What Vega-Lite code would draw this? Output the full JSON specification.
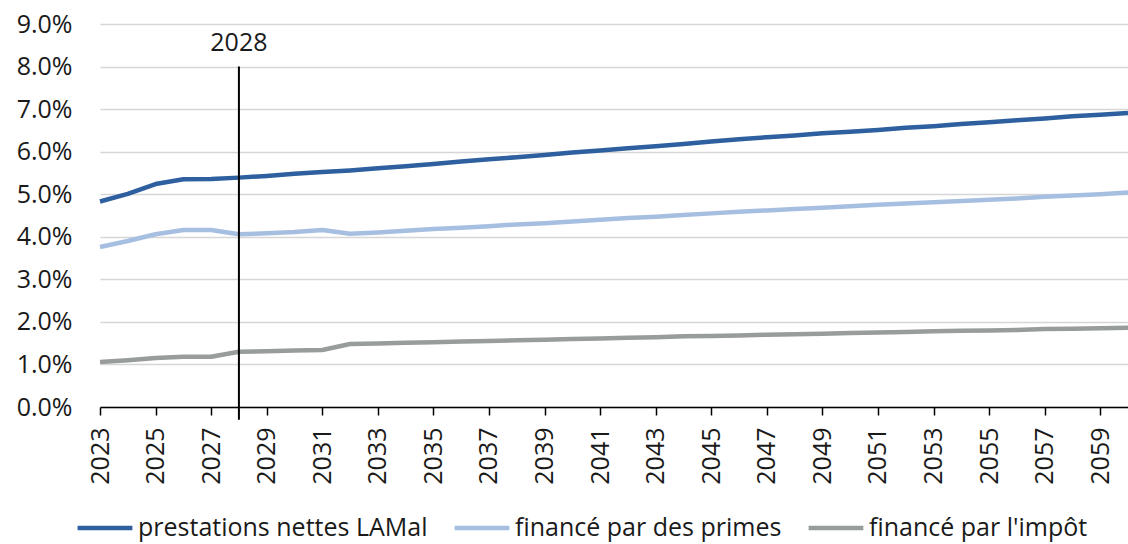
{
  "$schema": "https://vega.github.io/schema/vega-lite/v6.json",
  "width": 1028,
  "height": 383,
  "autosize": {"type": "none"},
  "padding": {"left": 100, "top": 24, "right": 0, "bottom": 137},
  "background": "white",
  "config": {
    "view": {"stroke": null},
    "font": "Open Sans",
    "axis": {"labelFont": "Open Sans", "labelColor": "#1a1a1a", "labelFontSize": 25, "titleFontSize": 0},
    "legend": {"labelFont": "Open Sans", "labelFontSize": 25, "labelColor": "#1a1a1a", "labelLimit": 0}
  },
  "datasets": {
    "series": [
      {"year": 2023, "serie": "prestations nettes LAMal", "value": 4.83},
      {"year": 2024, "serie": "prestations nettes LAMal", "value": 5.01},
      {"year": 2025, "serie": "prestations nettes LAMal", "value": 5.24},
      {"year": 2026, "serie": "prestations nettes LAMal", "value": 5.35},
      {"year": 2027, "serie": "prestations nettes LAMal", "value": 5.36},
      {"year": 2028, "serie": "prestations nettes LAMal", "value": 5.39},
      {"year": 2029, "serie": "prestations nettes LAMal", "value": 5.43},
      {"year": 2030, "serie": "prestations nettes LAMal", "value": 5.48},
      {"year": 2031, "serie": "prestations nettes LAMal", "value": 5.52},
      {"year": 2032, "serie": "prestations nettes LAMal", "value": 5.56},
      {"year": 2033, "serie": "prestations nettes LAMal", "value": 5.61},
      {"year": 2034, "serie": "prestations nettes LAMal", "value": 5.66},
      {"year": 2035, "serie": "prestations nettes LAMal", "value": 5.71},
      {"year": 2036, "serie": "prestations nettes LAMal", "value": 5.77},
      {"year": 2037, "serie": "prestations nettes LAMal", "value": 5.82},
      {"year": 2038, "serie": "prestations nettes LAMal", "value": 5.87},
      {"year": 2039, "serie": "prestations nettes LAMal", "value": 5.92},
      {"year": 2040, "serie": "prestations nettes LAMal", "value": 5.98},
      {"year": 2041, "serie": "prestations nettes LAMal", "value": 6.03},
      {"year": 2042, "serie": "prestations nettes LAMal", "value": 6.08},
      {"year": 2043, "serie": "prestations nettes LAMal", "value": 6.13},
      {"year": 2044, "serie": "prestations nettes LAMal", "value": 6.18},
      {"year": 2045, "serie": "prestations nettes LAMal", "value": 6.24},
      {"year": 2046, "serie": "prestations nettes LAMal", "value": 6.29},
      {"year": 2047, "serie": "prestations nettes LAMal", "value": 6.34},
      {"year": 2048, "serie": "prestations nettes LAMal", "value": 6.38},
      {"year": 2049, "serie": "prestations nettes LAMal", "value": 6.43},
      {"year": 2050, "serie": "prestations nettes LAMal", "value": 6.47},
      {"year": 2051, "serie": "prestations nettes LAMal", "value": 6.51},
      {"year": 2052, "serie": "prestations nettes LAMal", "value": 6.56},
      {"year": 2053, "serie": "prestations nettes LAMal", "value": 6.60},
      {"year": 2054, "serie": "prestations nettes LAMal", "value": 6.65},
      {"year": 2055, "serie": "prestations nettes LAMal", "value": 6.69},
      {"year": 2056, "serie": "prestations nettes LAMal", "value": 6.74},
      {"year": 2057, "serie": "prestations nettes LAMal", "value": 6.78},
      {"year": 2058, "serie": "prestations nettes LAMal", "value": 6.83},
      {"year": 2059, "serie": "prestations nettes LAMal", "value": 6.87},
      {"year": 2060, "serie": "prestations nettes LAMal", "value": 6.91},
      {"year": 2023, "serie": "financé par des primes", "value": 3.76},
      {"year": 2024, "serie": "financé par des primes", "value": 3.90},
      {"year": 2025, "serie": "financé par des primes", "value": 4.06},
      {"year": 2026, "serie": "financé par des primes", "value": 4.16},
      {"year": 2027, "serie": "financé par des primes", "value": 4.16},
      {"year": 2028, "serie": "financé par des primes", "value": 4.06},
      {"year": 2029, "serie": "financé par des primes", "value": 4.08},
      {"year": 2030, "serie": "financé par des primes", "value": 4.11},
      {"year": 2031, "serie": "financé par des primes", "value": 4.16},
      {"year": 2032, "serie": "financé par des primes", "value": 4.07},
      {"year": 2033, "serie": "financé par des primes", "value": 4.10},
      {"year": 2034, "serie": "financé par des primes", "value": 4.14},
      {"year": 2035, "serie": "financé par des primes", "value": 4.18},
      {"year": 2036, "serie": "financé par des primes", "value": 4.21},
      {"year": 2037, "serie": "financé par des primes", "value": 4.25},
      {"year": 2038, "serie": "financé par des primes", "value": 4.29},
      {"year": 2039, "serie": "financé par des primes", "value": 4.32},
      {"year": 2040, "serie": "financé par des primes", "value": 4.36},
      {"year": 2041, "serie": "financé par des primes", "value": 4.40},
      {"year": 2042, "serie": "financé par des primes", "value": 4.44},
      {"year": 2043, "serie": "financé par des primes", "value": 4.47},
      {"year": 2044, "serie": "financé par des primes", "value": 4.51},
      {"year": 2045, "serie": "financé par des primes", "value": 4.55},
      {"year": 2046, "serie": "financé par des primes", "value": 4.59},
      {"year": 2047, "serie": "financé par des primes", "value": 4.62},
      {"year": 2048, "serie": "financé par des primes", "value": 4.65},
      {"year": 2049, "serie": "financé par des primes", "value": 4.68},
      {"year": 2050, "serie": "financé par des primes", "value": 4.72},
      {"year": 2051, "serie": "financé par des primes", "value": 4.75},
      {"year": 2052, "serie": "financé par des primes", "value": 4.78},
      {"year": 2053, "serie": "financé par des primes", "value": 4.81},
      {"year": 2054, "serie": "financé par des primes", "value": 4.84},
      {"year": 2055, "serie": "financé par des primes", "value": 4.87},
      {"year": 2056, "serie": "financé par des primes", "value": 4.90},
      {"year": 2057, "serie": "financé par des primes", "value": 4.94},
      {"year": 2058, "serie": "financé par des primes", "value": 4.97},
      {"year": 2059, "serie": "financé par des primes", "value": 5.00},
      {"year": 2060, "serie": "financé par des primes", "value": 5.04},
      {"year": 2023, "serie": "financé par l'impôt", "value": 1.06},
      {"year": 2024, "serie": "financé par l'impôt", "value": 1.10},
      {"year": 2025, "serie": "financé par l'impôt", "value": 1.15},
      {"year": 2026, "serie": "financé par l'impôt", "value": 1.18},
      {"year": 2027, "serie": "financé par l'impôt", "value": 1.18},
      {"year": 2028, "serie": "financé par l'impôt", "value": 1.30},
      {"year": 2029, "serie": "financé par l'impôt", "value": 1.31},
      {"year": 2030, "serie": "financé par l'impôt", "value": 1.33},
      {"year": 2031, "serie": "financé par l'impôt", "value": 1.34},
      {"year": 2032, "serie": "financé par l'impôt", "value": 1.48},
      {"year": 2033, "serie": "financé par l'impôt", "value": 1.49},
      {"year": 2034, "serie": "financé par l'impôt", "value": 1.51},
      {"year": 2035, "serie": "financé par l'impôt", "value": 1.52},
      {"year": 2036, "serie": "financé par l'impôt", "value": 1.54},
      {"year": 2037, "serie": "financé par l'impôt", "value": 1.55},
      {"year": 2038, "serie": "financé par l'impôt", "value": 1.57},
      {"year": 2039, "serie": "financé par l'impôt", "value": 1.58},
      {"year": 2040, "serie": "financé par l'impôt", "value": 1.60},
      {"year": 2041, "serie": "financé par l'impôt", "value": 1.61},
      {"year": 2042, "serie": "financé par l'impôt", "value": 1.63},
      {"year": 2043, "serie": "financé par l'impôt", "value": 1.64},
      {"year": 2044, "serie": "financé par l'impôt", "value": 1.66},
      {"year": 2045, "serie": "financé par l'impôt", "value": 1.67},
      {"year": 2046, "serie": "financé par l'impôt", "value": 1.68},
      {"year": 2047, "serie": "financé par l'impôt", "value": 1.70},
      {"year": 2048, "serie": "financé par l'impôt", "value": 1.71},
      {"year": 2049, "serie": "financé par l'impôt", "value": 1.72},
      {"year": 2050, "serie": "financé par l'impôt", "value": 1.74},
      {"year": 2051, "serie": "financé par l'impôt", "value": 1.75},
      {"year": 2052, "serie": "financé par l'impôt", "value": 1.76},
      {"year": 2053, "serie": "financé par l'impôt", "value": 1.78},
      {"year": 2054, "serie": "financé par l'impôt", "value": 1.79},
      {"year": 2055, "serie": "financé par l'impôt", "value": 1.80},
      {"year": 2056, "serie": "financé par l'impôt", "value": 1.81},
      {"year": 2057, "serie": "financé par l'impôt", "value": 1.83},
      {"year": 2058, "serie": "financé par l'impôt", "value": 1.84},
      {"year": 2059, "serie": "financé par l'impôt", "value": 1.85},
      {"year": 2060, "serie": "financé par l'impôt", "value": 1.86}
    ],
    "marker": [
      {"year": 2028, "label": "2028", "top": 8, "bottom": -0.3, "labelpos": 8.55}
    ]
  },
  "layer": [
    {
      "data": {"name": "series"},
      "mark": {"type": "line", "strokeWidth": 4.5, "strokeCap": "butt", "strokeJoin": "round"},
      "encoding": {
        "x": {
          "field": "year", "type": "quantitative",
          "scale": {"domain": [2023, 2060], "nice": false, "zero": false},
          "axis": {
            "title": null,
            "values": [2023,2024,2025,2026,2027,2028,2029,2030,2031,2032,2033,2034,2035,2036,2037,2038,2039,2040,2041,2042,2043,2044,2045,2046,2047,2048,2049,2050,2051,2052,2053,2054,2055,2056,2057,2058,2059,2060],
            "labelExpr": "datum.value % 2 == 1 ? '' + datum.value : ''",
            "labelAngle": -90, "labelAlign": "right", "labelBaseline": "middle",
            "labelPadding": 12, "labelOverlap": false, "labelFlush": false, "labelBound": false,
            "grid": false, "domainColor": "#000000", "domainWidth": 1.5,
            "tickColor": "#000000", "tickWidth": 1.5, "tickSize": 8
          }
        },
        "y": {
          "field": "value", "type": "quantitative",
          "scale": {"domain": [0, 9], "nice": false},
          "axis": {
            "title": null,
            "values": [0,1,2,3,4,5,6,7,8,9],
            "labelExpr": "format(datum.value, '.1f') + '%'",
            "domain": false, "ticks": false, "labelPadding": 28,
            "grid": true, "gridColor": "#d6d6d6", "gridWidth": 1.5
          }
        },
        "color": {
          "field": "serie", "type": "nominal",
          "scale": {
            "domain": ["prestations nettes LAMal", "financé par des primes", "financé par l'impôt"],
            "range": ["#2e5f9f", "#a6bfe1", "#999c9c"]
          },
          "legend": {
            "title": null, "orient": "none", "direction": "horizontal",
            "legendX": -25, "legendY": 474,
            "symbolType": "stroke", "symbolSize": 3000, "symbolStrokeWidth": 4.5,
            "labelOffset": 3, "columnPadding": 17, "symbolOffset": 0
          }
        }
      }
    },
    {
      "data": {"name": "marker"},
      "mark": {"type": "rule", "color": "#000000", "strokeWidth": 2},
      "encoding": {
        "x": {"field": "year", "type": "quantitative"},
        "y": {"field": "top", "type": "quantitative"},
        "y2": {"field": "bottom"}
      }
    },
    {
      "data": {"name": "marker"},
      "mark": {"type": "text", "fontSize": 25, "font": "Open Sans", "color": "#1a1a1a", "baseline": "middle", "align": "center"},
      "encoding": {
        "x": {"field": "year", "type": "quantitative"},
        "y": {"field": "labelpos", "type": "quantitative"},
        "text": {"field": "label"}
      }
    }
  ]
}
